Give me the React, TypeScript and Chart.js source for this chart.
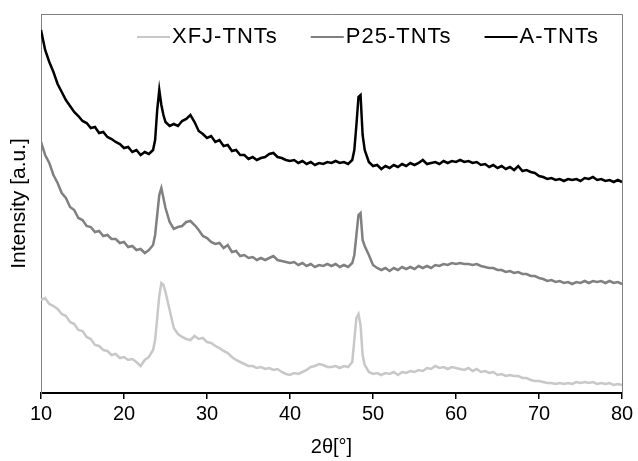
import React, { useEffect, useRef } from "react";
import { Chart, registerables } from "chart.js";

Chart.register(...registerables);

// 2θ positions (degrees)
const angles = [
  10, 10.5, 11, 11.5, 12, 12.5, 13, 13.5, 14, 14.5, 15, 15.5, 16, 16.5, 17, 17.5, 18, 18.5, 19, 19.5,
  20, 20.5, 21, 21.5, 22, 22.5, 23, 23.5, 23.75, 24, 24.25, 24.5, 24.75, 25, 25.5, 26, 26.5, 27, 27.5,
  28, 28.5, 29, 29.5, 30, 30.5, 31, 31.5, 32, 32.5, 33, 33.5, 34, 34.5, 35, 35.5, 36, 36.5, 37, 37.5,
  38, 38.5, 39, 39.5, 40, 40.5, 41, 41.5, 42, 42.5, 43, 43.5, 44, 44.5, 45, 45.5, 46, 46.5, 47, 47.5,
  47.75, 48, 48.25, 48.5, 48.75, 49, 49.5, 50, 50.5, 51, 51.5, 52, 52.5, 53, 53.5, 54, 54.5, 55, 55.5,
  56, 56.5, 57, 57.5, 58, 58.5, 59, 59.5, 60, 60.5, 61, 61.5, 62, 62.5, 63, 63.5, 64, 64.5, 65, 65.5,
  66, 66.5, 67, 67.5, 68, 68.5, 69, 69.5, 70, 70.5, 71, 71.5, 72, 72.5, 73, 73.5, 74, 74.5, 75, 75.5,
  76, 76.5, 77, 77.5, 78, 78.5, 79, 79.5, 80,
];

// Intensity (a.u.) for each sample
const xfjTNTs = [
  93, 95, 89, 87, 84, 79, 77, 71, 69, 63, 62, 56, 54, 48, 47, 43, 42, 38, 39, 35,
  36, 33, 34, 31, 27, 33, 36, 43, 53, 75, 97, 110, 108, 101, 83, 65, 59, 56, 54,
  53, 57, 54, 55, 51, 50, 47, 45, 42, 40, 36, 33, 31, 29, 27, 27, 25, 26, 24, 25,
  23, 24, 21, 19, 18, 20, 19, 21, 23, 26, 27, 29, 28, 26, 26, 27, 25, 27, 26, 31,
  53, 75, 79, 68, 38, 28, 21, 19, 20, 18, 20, 19, 21, 18, 21, 20, 22, 21, 23,
  22, 25, 24, 27, 25, 26, 24, 26, 25, 24, 23, 25, 22, 24, 21, 22, 20, 21, 18, 19,
  17, 18, 17, 17, 15, 15, 13, 12, 12, 11, 10, 10, 9, 10, 9, 10, 9, 11, 10, 11,
  10, 11, 9, 10, 9, 10, 8, 9, 8,
];

const p25TNTs = [
  251, 238, 230, 218, 210, 200, 195, 186, 183, 175, 173, 167, 166, 161, 162, 157, 158, 154, 154, 150,
  151, 146, 147, 143, 144, 140, 143, 148, 158, 178, 198, 205, 195, 185, 171, 164, 166, 167, 171,
  172, 168, 163, 157, 155, 151, 149, 150, 145, 148, 141, 142, 137, 138, 135, 136, 133, 135, 133, 135,
  137, 133, 132, 131, 130, 131, 128, 130, 127, 129, 126, 128, 127, 129, 127, 129, 126, 128, 126, 130,
  138, 158, 178, 180, 153, 147, 138, 128, 125, 123, 125, 122, 125, 123, 126, 124, 126, 124, 127,
  125, 127, 125, 128, 127, 129, 128, 130, 129, 130, 129, 129, 128, 129, 127, 126, 125, 125, 123, 123,
  121, 122, 120, 121, 119, 119, 117, 117, 115, 114, 112, 113, 111, 112, 110, 111, 109, 111, 110, 112,
  110, 112, 111, 112, 110, 112, 110, 111, 109,
];

const aTNTs = [
  363, 343, 331, 321, 309, 301, 293, 287, 281, 277, 272, 270, 265, 266, 260, 261, 256, 254, 251, 249,
  245, 246, 241, 243, 238, 241, 239, 243, 253, 283, 303, 288, 278, 271, 267, 269, 267, 272, 274,
  278, 271, 262, 259, 255, 257, 251, 253, 247, 248, 242, 243, 238, 238, 234, 236, 233, 235, 236, 239,
  240, 236, 235, 233, 232, 233, 230, 232, 229, 231, 228, 230, 229, 231, 230, 232, 230, 231, 229, 233,
  243, 268, 296, 298, 258, 243, 231, 227, 228, 224, 227, 225, 228, 226, 229, 227, 230, 228, 230,
  233, 229, 230, 231, 229, 232, 230, 232, 231, 233, 231, 232, 230, 231, 228, 229, 226, 228, 225, 227,
  224, 226, 223, 227, 222, 223, 221, 220, 217, 216, 214, 215, 213, 214, 212, 214, 213, 214, 212, 215,
  214, 216, 213, 214, 212, 213, 211, 213, 211,
];

const seriesLabels = ["XFJ-TNTs", "P25-TNTs", "A-TNTs"];
const seriesColors = ["#c8c8c8", "#808080", "#000000"];
const xTicks = [10, 20, 30, 40, 50, 60, 70, 80];

const FONT = "'Liberation Sans', Arial, Helvetica, sans-serif";

const framePlugin = {
  id: "frame",
  beforeDatasetsDraw(chart: any) {
    const { ctx, chartArea } = chart;
    ctx.save();
    ctx.strokeStyle = "#808080";
    ctx.lineWidth = 1;
    ctx.beginPath();
    ctx.moveTo(chartArea.left, chartArea.top + 0.5);
    ctx.lineTo(chartArea.right + 0.5, chartArea.top + 0.5);
    ctx.lineTo(chartArea.right + 0.5, chartArea.bottom);
    ctx.stroke();
    ctx.restore();
  },
};

const legendPlugin = {
  id: "insideLegend",
  afterDatasetsDraw(chart: any) {
    const { ctx, chartArea } = chart;
    ctx.save();
    ctx.font = `22px ${FONT}`;
    try {
      (ctx as any).letterSpacing = "1px";
    } catch (e) {}
    ctx.textBaseline = "middle";
    ctx.textAlign = "left";
    const y = chartArea.top + 23;
    let x = chartArea.left + 96;
    const lineLen = 33;
    const gap = 2;
    const itemGap = 33;
    chart.data.datasets.forEach((ds: any) => {
      ctx.strokeStyle = ds.borderColor;
      ctx.lineWidth = 2;
      ctx.beginPath();
      ctx.moveTo(x, y);
      ctx.lineTo(x + lineLen, y);
      ctx.stroke();
      ctx.fillStyle = "#000";
      const tx = x + lineLen + gap;
      ctx.fillText(ds.label, tx, y);
      const w = ctx.measureText(ds.label).width;
      x = tx + w + itemGap;
    });
    ctx.restore();
  },
};

export default function App() {
  const canvasRef = useRef<HTMLCanvasElement | null>(null);

  useEffect(() => {
    if (!canvasRef.current) return;
    const series = [xfjTNTs, p25TNTs, aTNTs];
    const chart = new Chart(canvasRef.current, {
      type: "line",
      data: {
        datasets: series.map((vals, i) => ({
          label: seriesLabels[i],
          data: angles.map((a, j) => ({ x: a, y: vals[j] })),
          borderColor: seriesColors[i],
          backgroundColor: seriesColors[i],
          borderWidth: 2.5,
          pointRadius: 0,
          tension: 0,
          fill: false,
        })),
      },
      options: {
        animation: false,
        responsive: false,
        maintainAspectRatio: false,
        devicePixelRatio: 1,
        layout: { padding: { top: 14, right: 16, left: 0, bottom: 0 } },
        plugins: {
          legend: { display: false },
          tooltip: { enabled: false },
        },
        scales: {
          x: {
            type: "linear",
            min: 10,
            max: 80,
            afterBuildTicks: (scale: any) => {
              scale.ticks = xTicks.map((v) => ({ value: v }));
            },
            ticks: {
              color: "#000",
              font: { family: FONT, size: 20 },
              padding: 3,
              maxRotation: 0,
            },
            grid: {
              display: true,
              drawOnChartArea: false,
              drawTicks: true,
              tickLength: 6,
              color: "#000",
              lineWidth: 1.5,
            },
            border: { display: true, color: "#000", width: 2 },
            title: {
              display: true,
              text: "2θ[°]",
              color: "#000",
              font: { family: FONT, size: 20 },
              padding: { top: 0, bottom: 2 },
            },
            afterFit: (scale: any) => {
              scale.height = 68;
            },
          },
          y: {
            type: "linear",
            min: 0,
            max: 379,
            ticks: { display: false },
            grid: { display: false },
            border: { display: true, color: "#808080", width: 1 },
            title: {
              display: true,
              text: "Intensity [a.u.]",
              color: "#000",
              font: { family: FONT, size: 21 },
              padding: { top: 7, bottom: 0 },
            },
            afterFit: (scale: any) => {
              scale.width = 41;
            },
          },
        },
      },
      plugins: [framePlugin, legendPlugin],
    });
    return () => chart.destroy();
  }, []);

  return (
    <div style={{ position: "absolute", left: 0, top: 0, width: 638, height: 461, background: "#fff" }}>
      <canvas ref={canvasRef} width={638} height={461} style={{ display: "block" }} />
    </div>
  );
}
